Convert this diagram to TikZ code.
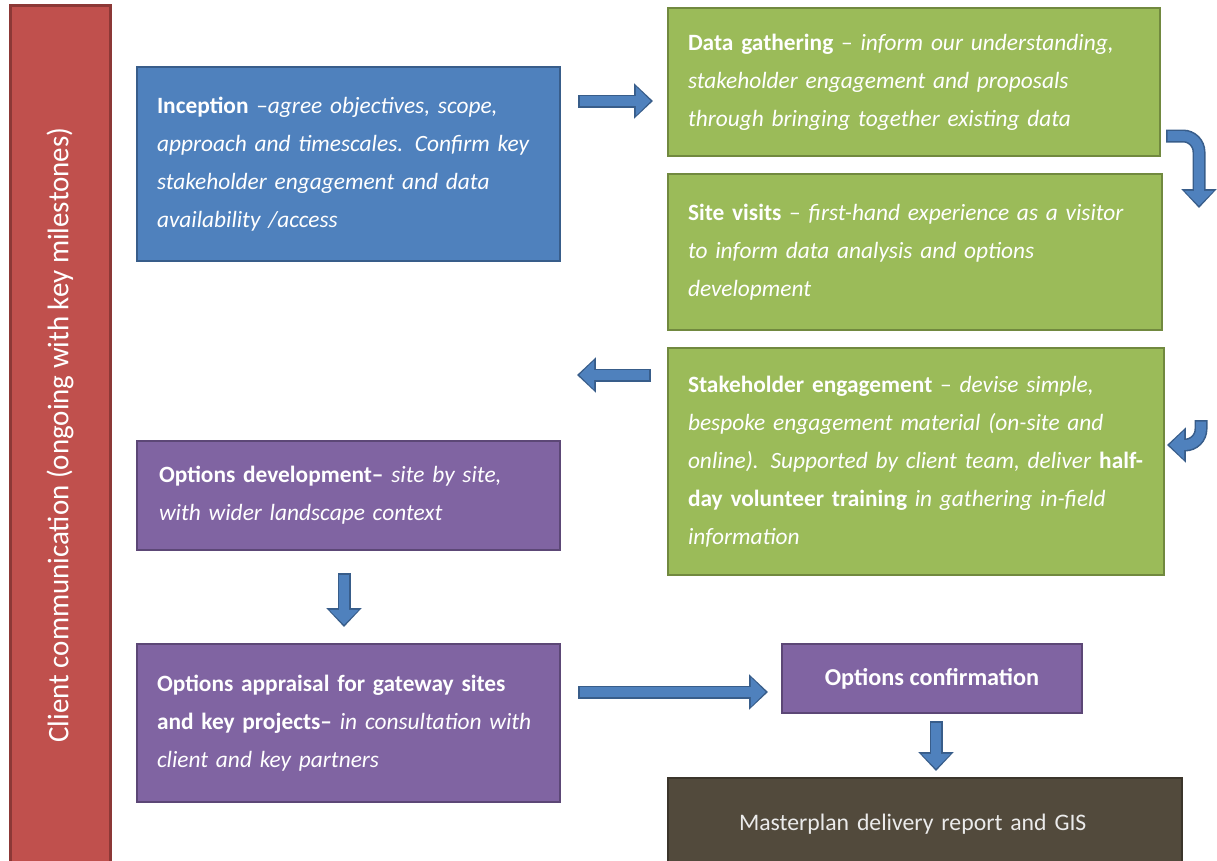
\documentclass[tikz,border=0pt]{standalone}
\usepackage{fontspec}
\setmainfont{Carlito}
\newfontfamily\sidefont[FakeStretch=0.97]{Carlito}
\usetikzlibrary{arrows.meta}
\newdimen\pxu \pxu=0.02cm
\definecolor{bfill}{HTML}{4F81BD}
\definecolor{bborder}{HTML}{385D8A}
\definecolor{gfill}{HTML}{9BBB59}
\definecolor{gborder}{HTML}{71893F}
\definecolor{pfill}{HTML}{8064A2}
\definecolor{pborder}{HTML}{5C4776}
\definecolor{rfill}{HTML}{C0504D}
\definecolor{rborder}{HTML}{8C3836}
\definecolor{mfill}{HTML}{524A3C}
\definecolor{mborder}{HTML}{3B352B}
\tikzset{
  box/.style={draw, line width=2.5\pxu, inner xsep=20\pxu, inner ysep=0pt, text=white, align=left,
    font=\fontsize{13.3}{21.6}\selectfont},
  arrowout/.style={draw=bborder, line width=7.4pt, -{Triangle[width=19.5pt,length=10.8pt]}},
  arrowin/.style={draw=bfill, line width=5.6pt, shorten >=1.3pt, shorten <=0.9pt,
    -{Triangle[width=16pt,length=8.4pt]}},
  curveout/.style={arrowout, rounded corners=16\pxu},
  curvein/.style={arrowin, rounded corners=16\pxu},
}
\begin{document}
\begin{tikzpicture}[x=0.02cm, y=-0.02cm]
\useasboundingbox (0,0) rectangle (1217,860);

% sidebar
\node[draw=rborder, fill=rfill, line width=3\pxu, rotate=90, minimum width=860\pxu, minimum height=100\pxu,
  inner sep=0pt, text=white, font=\sidefont\fontsize{17}{20}\selectfont] (side) at (60,435)
  {Client communication (ongoing with key milestones)};

% boxes
\node[box, fill=bfill, draw=bborder, text width=383\pxu, minimum height=194\pxu] (inc) at (348.5,164)
  {\mbox{\textbf{Inception} --\textit{agree objectives, scope,}}\\
   \mbox{\textit{approach and timescales. Confirm key}}\\
   \mbox{\textit{stakeholder engagement and data}}\\
   \mbox{\textit{availability /access}}};

\node[box, fill=gfill, draw=gborder, text width=452\pxu, minimum height=148\pxu] (dg) at (914,82)
  {\mbox{\textbf{Data gathering} -- \textit{inform our understanding,}}\\
   \mbox{\textit{stakeholder engagement and proposals}}\\
   \mbox{\textit{through bringing together existing data}}};

\node[box, fill=gfill, draw=gborder, text width=454\pxu, minimum height=156\pxu] (sv) at (915,252)
  {\mbox{\textbf{Site visits} -- \textit{first-hand experience as a visitor}}\\
   \mbox{\textit{to inform data analysis and options}}\\
   \mbox{\textit{development}}};

\node[box, fill=gfill, draw=gborder, text width=456\pxu, minimum height=227\pxu] (se) at (916,461.5)
  {\mbox{\textbf{Stakeholder engagement} -- \textit{devise simple,}}\\
   \mbox{\textit{bespoke engagement material (on-site and}}\\
   \mbox{\textit{online). Supported by client team, deliver} \textbf{half-}}\\
   \mbox{\textbf{day volunteer training} \textit{in gathering in-field}}\\
   \mbox{\textit{information}}};

\node[box, fill=pfill, draw=pborder, text width=379\pxu, minimum height=109\pxu, inner xsep=22\pxu] (od) at (348.5,495.5)
  {\mbox{\textbf{Options development--} \textit{site by site,}}\\
   \mbox{\textit{with wider landscape context}}};

\node[box, fill=pfill, draw=pborder, text width=383\pxu, minimum height=158\pxu] (oa) at (348.5,723)
  {\mbox{\textbf{Options appraisal for gateway sites}}\\
   \mbox{\textbf{and key projects--} \textit{in consultation with}}\\
   \mbox{\textit{client and key partners}}};

\node[box, fill=pfill, draw=pborder, minimum width=300\pxu, minimum height=69\pxu, align=center,
  font=\bfseries\fontsize{13.8}{15}\selectfont] (oc) at (932,678.5)
  {Options confirmation};

\node[box, fill=mfill, draw=mborder, text width=372\pxu, inner xsep=71\pxu, minimum height=92\pxu, align=left,
  text=white!92!black, font=\fontsize{13.5}{16}\selectfont] (mp) at (925,824)
  {Masterplan delivery report and GIS};

% connector end points
\coordinate (a1s) at (578,101);  \coordinate (a1e) at (653,101);
\coordinate (a2s) at (651,375);  \coordinate (a2e) at (577,375);
\coordinate (a3s) at (344,573);  \coordinate (a3e) at (344,627);
\coordinate (a4s) at (578,692);  \coordinate (a4e) at (768,692);
\coordinate (a5s) at (936,721);  \coordinate (a5e) at (936,771);
\coordinate (c1s) at (1166,136); \coordinate (c1m) at (1199,136); \coordinate (c1e) at (1199,208);
\coordinate (c2s) at (1201,420); \coordinate (c2m) at (1201,445); \coordinate (c2e) at (1167,445);

\foreach \s/\e in {a1s/a1e, a2s/a2e, a3s/a3e, a4s/a4e, a5s/a5e}{
  \draw[arrowout] (\s) -- (\e);
  \draw[arrowin] (\s) -- (\e);
}
\draw[curveout] (c1s) -- (c1m) -- (c1e);
\draw[curvein] (c1s) -- (c1m) -- (c1e);
\draw[curveout] (c2s) -- (c2m) -- (c2e);
\draw[curvein] (c2s) -- (c2m) -- (c2e);
\end{tikzpicture}
\end{document}
